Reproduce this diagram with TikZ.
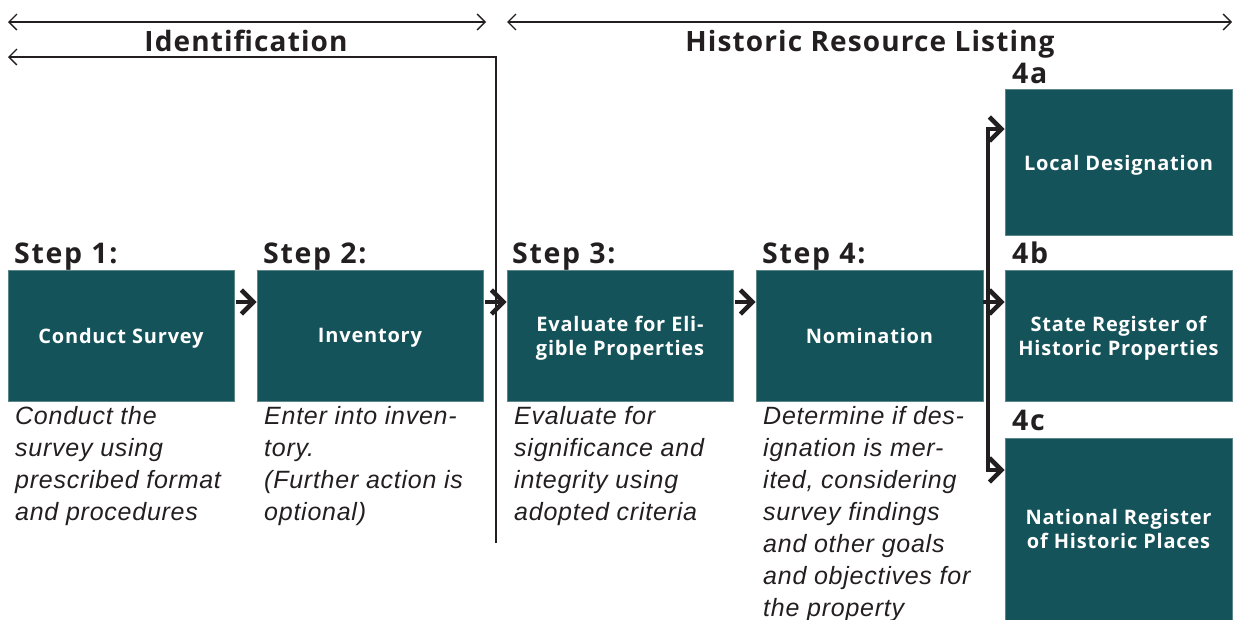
\documentclass[tikz,border=0pt]{standalone}
\usepackage{fontspec}
\usetikzlibrary{arrows.meta}
\newfontfamily\hdfont[LetterSpace=4]{Open Sans}
\newfontfamily\stfont[LetterSpace=6]{Open Sans}
\newfontfamily\dsfont[LetterSpace=3]{Liberation Sans}
\definecolor{teal}{RGB}{21,83,90}
\definecolor{ink}{RGB}{35,31,32}
\tikzset{
  box/.style={fill=teal, draw=teal!70!white, line width=0.8pt, text=white, inner sep=0pt,
    text depth=0pt, font=\hdfont\bfseries\fontsize{20}{24}\selectfont, align=center},
  steplabel/.style={anchor=base west, inner sep=0pt, text=ink, font=\stfont\bfseries\fontsize{28.5}{32}\selectfont},
  phase/.style={anchor=base, inner sep=0pt, text=ink, font=\hdfont\bfseries\fontsize{28}{32}\selectfont},
  desc/.style={anchor=base west, inner sep=0pt, text=ink, align=left,
    font=\dsfont\itshape\fontsize{25}{32}\selectfont},
  flow/.style={draw=ink, line width=4.5pt, -{Straight Barb[length=12pt,width=24pt]}},
  bracket/.style={draw=ink, line width=4.5pt, line join=miter,
    {Straight Barb[length=12pt,width=24pt]}-{Straight Barb[length=12pt,width=24pt]}},
  span/.style={draw=ink, line width=1.3pt, {Straight Barb[length=8pt,width=16pt]}-{Straight Barb[length=8pt,width=16pt]}},
  backline/.style={draw=ink, line width=1.3pt, -{Straight Barb[length=8pt,width=16pt]}}
}
\begin{document}
\begin{tikzpicture}[x=1pt,y=-1pt]
\useasboundingbox (0,0) rectangle (1233,619);
% phase spans
\coordinate (i1) at (8,22);
\coordinate (i2) at (486,22);
\coordinate (h1) at (507,22);
\coordinate (h2) at (1232,22);
\draw[span] (i1) -- (i2);
\draw[span] (h1) -- (h2);
\node[phase] (idt) at (246,51) {Identification};
\node[phase] (hrl) at (870,51) {Historic Resource Listing};
\coordinate (fb0) at (496,543);
\coordinate (fb1) at (496,57);
\coordinate (fb2) at (8,57);
\draw[backline] (fb0) -- (fb1) -- (fb2);
% boxes
\node[box, minimum width=226pt, minimum height=131pt] (b1) at (121,335.5) {Conduct Survey};
\node[box, minimum width=226pt, minimum height=131pt] (b2) at (370,335.5) {Inventory};
\node[box, minimum width=226pt, minimum height=131pt] (b3) at (620,335.5) {Evaluate for Eli-\\gible Properties};
\node[box, minimum width=227pt, minimum height=131pt] (b4) at (869.5,335.5) {Nomination};
\node[box, minimum width=227pt, minimum height=146pt] (b4a) at (1118.5,162.5) {Local Designation};
\node[box, minimum width=227pt, minimum height=131pt] (b4b) at (1118.5,335.5) {State Register of\\Historic Properties};
\node[box, minimum width=227pt, minimum height=182pt] (b4c) at (1118.5,529) {National Register\\of Historic Places};
% step labels
\node[steplabel] (s1) at (14,263) {Step 1:};
\node[steplabel] (s2) at (263,263) {Step 2:};
\node[steplabel] (s3) at (512,263) {Step 3:};
\node[steplabel] (s4) at (762,263) {Step 4:};
\node[steplabel] (l4a) at (1012,83) {4a};
\node[steplabel] (l4b) at (1012,263) {4b};
\node[steplabel] (l4c) at (1012,430) {4c};
% descriptions (anchored at the baseline of the last line)
\node[desc] (d1) at (15,520) {Conduct the\\survey using\\prescribed format\\and procedures};
\node[desc] (d2) at (264,520) {Enter into inven-\\tory.\\(Further action is\\optional)};
\node[desc] (d3) at (514,520) {Evaluate for\\significance and\\integrity using\\adopted criteria};
\node[desc] (d4) at (763,616) {Determine if des-\\ignation is mer-\\ited, considering\\survey findings\\and other goals\\and objectives for\\the property};
% flow arrows
\draw[flow] ([yshift=33.5pt,xshift=2pt]b1.east) -- ([yshift=33.5pt]b2.west);
\draw[flow] ([yshift=33.5pt,xshift=2pt]b2.east) -- ([yshift=33.5pt]b3.west);
\draw[flow] ([yshift=33.5pt,xshift=2pt]b3.east) -- ([yshift=33.5pt]b4.west);
\draw[flow] ([yshift=33.5pt]b4.east) -- ([yshift=33.5pt]b4b.west);
\coordinate (ja) at (988,129);
\coordinate (jc) at (988,470);
\draw[bracket] (b4a.west |- ja) -- (ja) -- (jc) -- (b4c.west |- jc);
\end{tikzpicture}
\end{document}
